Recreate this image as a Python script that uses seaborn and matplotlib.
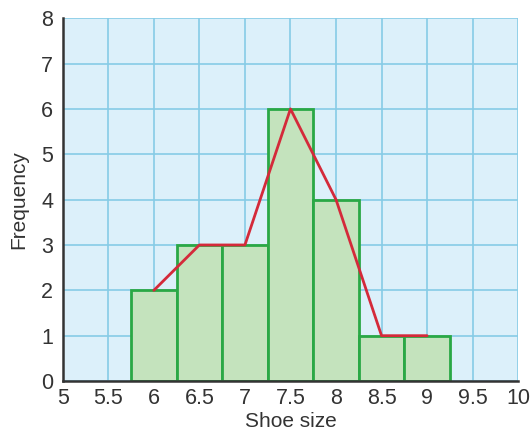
import matplotlib
matplotlib.use("Agg")
import matplotlib.pyplot as plt
import seaborn as sns
import pandas as pd

# Shoe size data
shoe_sizes = [6, 6.5, 7, 7.5, 8, 8.5, 9]
frequencies = [2, 3, 3, 6, 4, 1, 1]
x_ticks = [5, 5.5, 6, 6.5, 7, 7.5, 8, 8.5, 9, 9.5, 10]
x_tick_labels = ["5", "5.5", "6", "6.5", "7", "7.5", "8", "8.5", "9", "9.5", "10"]
y_ticks = [0, 1, 2, 3, 4, 5, 6, 7, 8]

df = pd.DataFrame({"size": shoe_sizes, "freq": frequencies})

sns.set_style("white")
plt.rcParams["font.family"] = ["Liberation Sans", "DejaVu Sans"]

fig = plt.figure(figsize=(5.32, 4.33), dpi=100)
ax = fig.add_axes([0.118, 0.12, 0.856, 0.838])
ax.set_facecolor("#dcf0fa")

# Histogram: bars of width 0.5 centred on each shoe size
sns.histplot(data=df, x="size", weights="freq", binwidth=0.5,
             binrange=(5.75, 9.25), color="#c4e3bd", edgecolor="#2aa845",
             linewidth=2, alpha=1, ax=ax, zorder=3)

# Frequency polygon through the bar midpoints
sns.lineplot(data=df, x="size", y="freq", color="#d42a3a", linewidth=2,
             ax=ax, zorder=4)

ax.set_xlim(5, 10)
ax.set_ylim(0, 8)
ax.set_xticks(x_ticks)
ax.set_xticklabels(x_tick_labels)
ax.set_yticks(y_ticks)
ax.grid(True, color="#86cbe6", linewidth=1.2, zorder=0)
ax.set_axisbelow(True)

for side in ["top", "right"]:
    ax.spines[side].set_visible(False)
for side in ["left", "bottom"]:
    ax.spines[side].set_color("#333333")
    ax.spines[side].set_linewidth(1.8)
    ax.spines[side].set_zorder(5)

ax.tick_params(axis="x", length=0, labelsize=15.5, colors="#333333", pad=5)
ax.tick_params(axis="y", length=0, labelsize=15.5, colors="#333333", pad=7)
ax.set_xlabel("Shoe size", fontsize=15, color="#333333", labelpad=2.5)
ax.set_ylabel("Frequency", fontsize=15, color="#333333", labelpad=9)

fig.savefig("out.png", dpi=100, facecolor="white")
